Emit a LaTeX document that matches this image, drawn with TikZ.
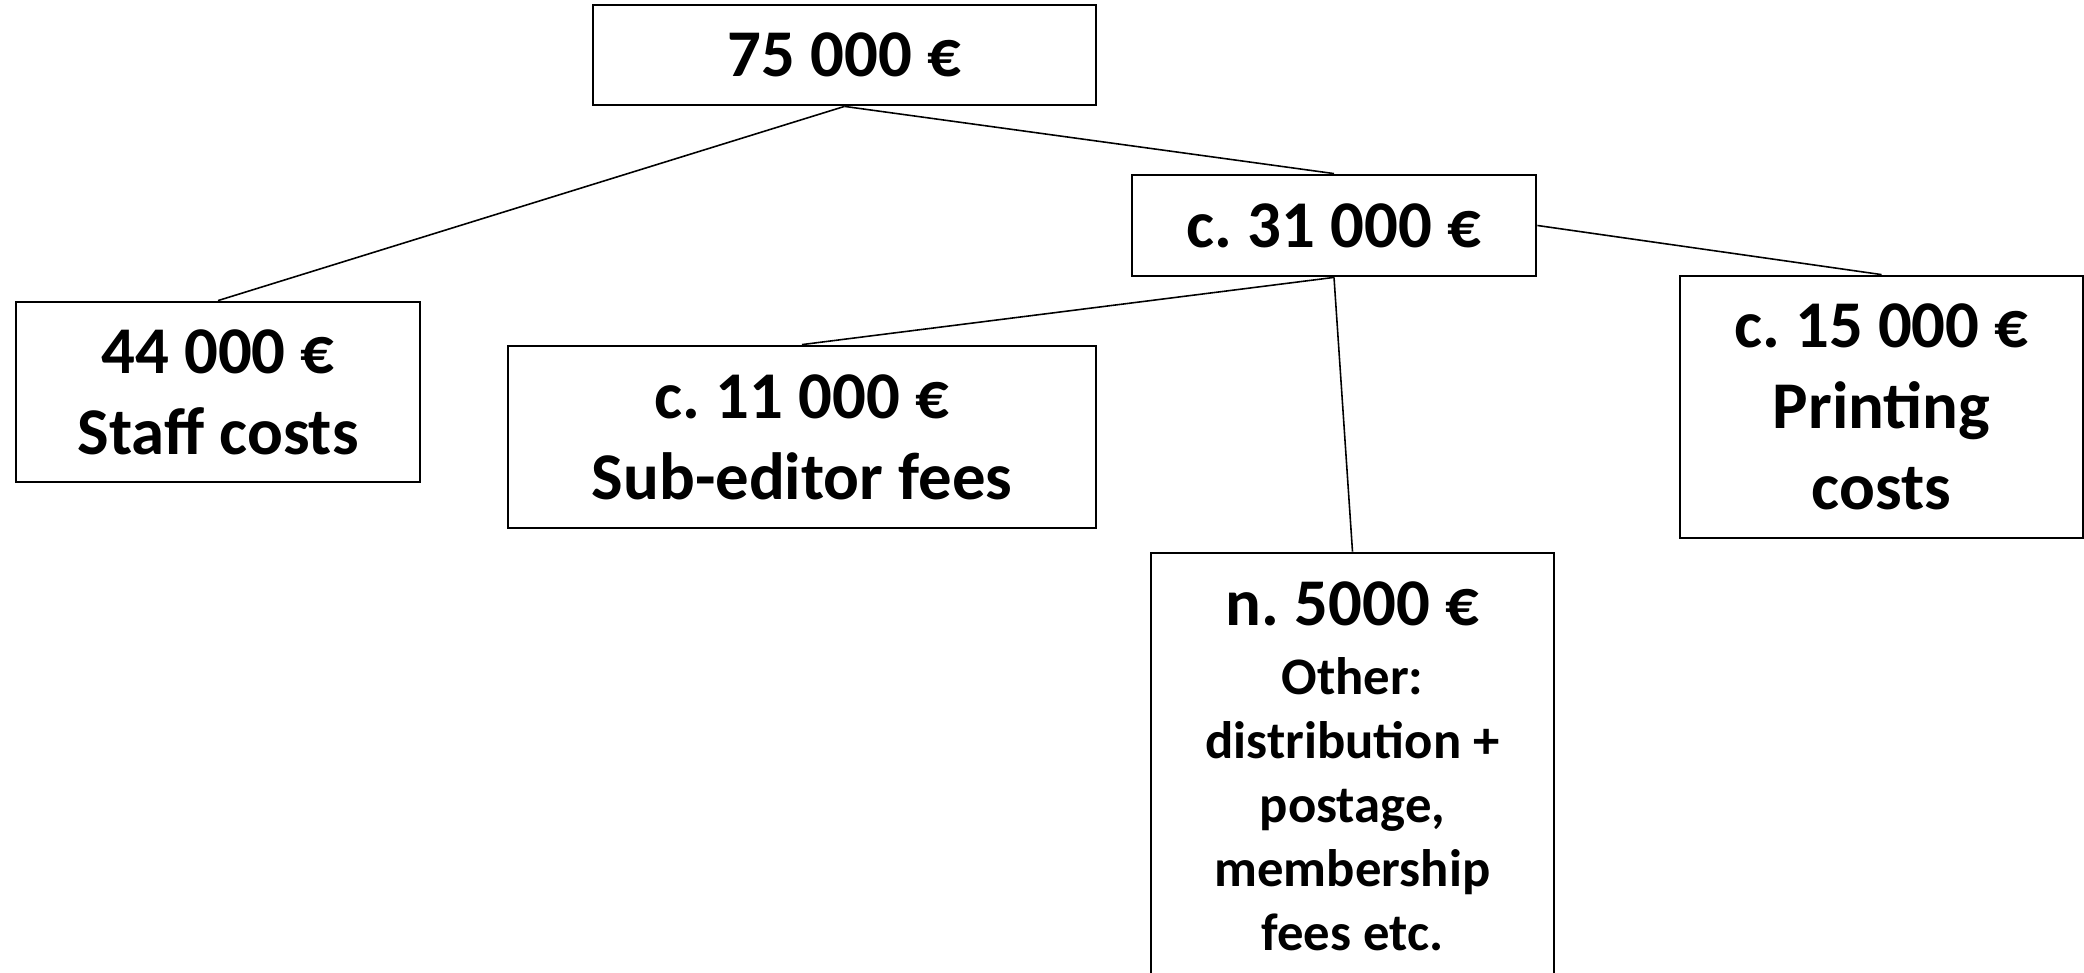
\documentclass[tikz,border=0pt]{standalone}
\usepackage{fontspec}
\setmainfont{Carlito}
\usepackage{tikz}
\usetikzlibrary{positioning, calc}
\definecolor{BoxLine}{HTML}{000000}
\newcommand{\bigtxt}{\fontsize{19}{23}\selectfont}
\newcommand{\smalltxt}{\fontsize{15}{18.2}\selectfont}
\frenchspacing

\begin{document}
\begin{tikzpicture}[
    costbox/.style={rectangle, draw=BoxLine, line width=0.8pt, align=center, inner sep=0pt,
                    font=\bigtxt\bfseries},
    link/.style={draw=black, line width=0.45pt}
]
    \useasboundingbox[fill=white] (0,0) rectangle (20.84,-9.73);

    % Total and first split
    \node[costbox, minimum width=5.03cm, minimum height=1.0cm] (total) at (8.445,-0.55) {75 000 €};
    \node[costbox, minimum width=4.04cm, minimum height=1.01cm] (other31) at (13.34,-2.255) {c. 31 000 €};
    \node[costbox, minimum width=4.04cm, minimum height=1.80cm] (staff) at (2.18,-3.92) {44 000 €\\Staff costs};

    % Breakdown of the remainder
    \node[costbox, minimum width=5.88cm, minimum height=1.82cm] (subed) at (8.02,-4.37) {c. 11 000 €\\Sub-editor fees};
    \node[costbox, minimum width=4.03cm, minimum height=2.62cm] (print) at (18.815,-4.07) {c. 15 000 €\\Printing\\costs};
    \node[costbox, font=\smalltxt\bfseries, minimum width=4.03cm, minimum height=4.26cm] (misc) at (13.525,-7.66)
        {{\bigtxt n. 5000 €}\\[1.5pt]Other:\\distribution +\\postage,\\membership\\fees etc.};

    % Connectors
    \draw[link] (total.south) -- (other31.north);
    \draw[link] (total.south) -- (staff.north);
    \draw[link] (other31.east) -- (print.north);
    \draw[link] (other31.south) -- (subed.north);
    \draw[link] (other31.south) -- (misc.north);
\end{tikzpicture}
\end{document}
